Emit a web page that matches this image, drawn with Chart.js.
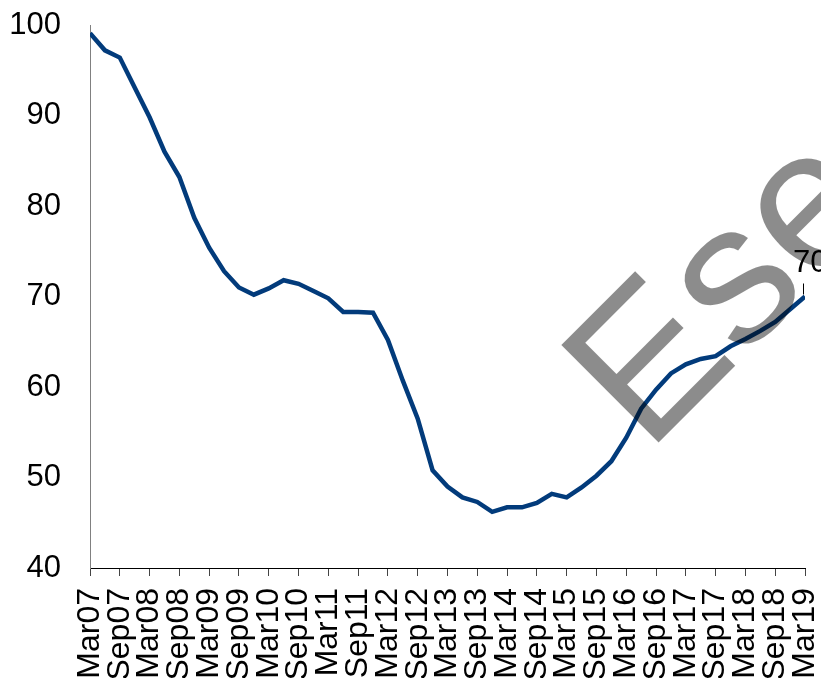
<!DOCTYPE html>
<html>
<head>
<meta charset="utf-8">
<script src="https://cdn.jsdelivr.net/npm/chart.js@4.4.1/dist/chart.umd.min.js"></script>
<style>
  html, body { margin: 0; padding: 0; background: #fff; }
  #wrap { width: 821px; height: 678px; overflow: hidden; }
</style>
</head>
<body>
<div id="wrap"><canvas id="chart" width="821" height="678"></canvas></div>
<script>
// quarterly index values, Mar07 .. Mar19
const values = [
  99.1, 97.2, 96.4, 93.1, 89.8, 86.0, 83.2, 78.7, 75.4, 72.8,
  71.0, 70.2, 70.9, 71.8, 71.4, 70.6, 69.8, 68.3, 68.3, 68.2,
  65.2, 60.7, 56.5, 50.8, 49.0, 47.8, 47.3, 46.2, 46.7, 46.7,
  47.2, 48.2, 47.8, 48.9, 50.2, 51.8, 54.4, 57.6, 59.7, 61.5,
  62.5, 63.1, 63.4, 64.5, 65.3, 66.2, 67.2, 68.6, 70.0
];
// one tick label every two quarters
const tickLabels = [
  'Mar07', 'Sep07', 'Mar08', 'Sep08', 'Mar09', 'Sep09', 'Mar10', 'Sep10',
  'Mar11', 'Sep11', 'Mar12', 'Sep12', 'Mar13', 'Sep13', 'Mar14', 'Sep14',
  'Mar15', 'Sep15', 'Mar16', 'Sep16', 'Mar17', 'Sep17', 'Mar18', 'Sep18', 'Mar19'
];
const yTicks = [40, 50, 60, 70, 80, 90, 100];
const lastLabel = '70';
const watermark = 'Esempio';

const points = values.map((v, i) => ({ x: i, y: v }));
const FONT = '"Liberation Sans", Arial, sans-serif';

// no extra room for the outer tick labels, the plot area is fixed
const noPad = s => { s.paddingTop = 0; s.paddingBottom = 0; s.paddingLeft = 0; s.paddingRight = 0; };

// watermark + end label drawn on top of the line
const overlay = {
  id: 'overlay',
  afterDraw(chart) {
    const ctx = chart.ctx;
    const xs = chart.scales.x, ys = chart.scales.y;

    ctx.save();
    ctx.translate(647, 454);
    ctx.rotate(-Math.PI / 4);
    ctx.fillStyle = 'rgba(0,0,0,0.45)';
    ctx.font = '200px ' + FONT;
    ctx.textAlign = 'left';
    ctx.textBaseline = 'alphabetic';
    ctx.fillText(watermark, 0, 0);
    ctx.restore();

    const last = values.length - 1;
    const px = xs.getPixelForValue(last);
    const py = ys.getPixelForValue(values[last]);
    ctx.save();
    ctx.strokeStyle = '#000';
    ctx.lineWidth = 1;
    ctx.beginPath();
    ctx.moveTo(px - 1.5, py - 13);
    ctx.lineTo(px - 1.5, py - 2);
    ctx.stroke();
    ctx.fillStyle = '#000';
    ctx.font = '31px ' + FONT;
    ctx.textAlign = 'left';
    ctx.textBaseline = 'alphabetic';
    ctx.fillText(lastLabel, px - 12, py - 25);
    ctx.restore();
  }
};

new Chart(document.getElementById('chart'), {
  type: 'line',
  data: {
    datasets: [{
      data: points,
      borderColor: '#023b7b',
      borderWidth: 4.5,
      pointRadius: 0,
      fill: false,
      tension: 0
    }]
  },
  options: {
    responsive: false,
    animation: false,
    layout: { autoPadding: false, padding: { top: 25, right: 16, left: 0, bottom: 0 } },
    plugins: { legend: { display: false }, tooltip: { enabled: false } },
    scales: {
      x: {
        type: 'linear',
        min: 0,
        max: values.length - 1,
        afterFit: s => { s.height = 110; noPad(s); },
        afterBuildTicks: s => { s.ticks = tickLabels.map((t, i) => ({ value: i * 2 })); },
        grid: { drawOnChartArea: false, drawTicks: true, tickLength: 8, color: '#444', lineWidth: 1 },
        border: { display: true, color: '#000', width: 1 },
        ticks: {
          autoSkip: false,
          minRotation: 90,
          maxRotation: 90,
          padding: 12,
          color: '#000',
          font: { family: FONT, size: 32 },
          callback: v => tickLabels[v / 2]
        }
      },
      y: {
        min: 40,
        max: 100,
        afterFit: s => { s.width = 90; noPad(s); },
        afterBuildTicks: s => { s.ticks = yTicks.map(v => ({ value: v })); },
        grid: { display: false, drawTicks: false },
        border: { display: true, color: '#808080', width: 1 },
        ticks: {
          padding: 29,
          color: '#000',
          font: { family: FONT, size: 31 }
        }
      }
    }
  },
  plugins: [overlay]
});
</script>
</body>
</html>
